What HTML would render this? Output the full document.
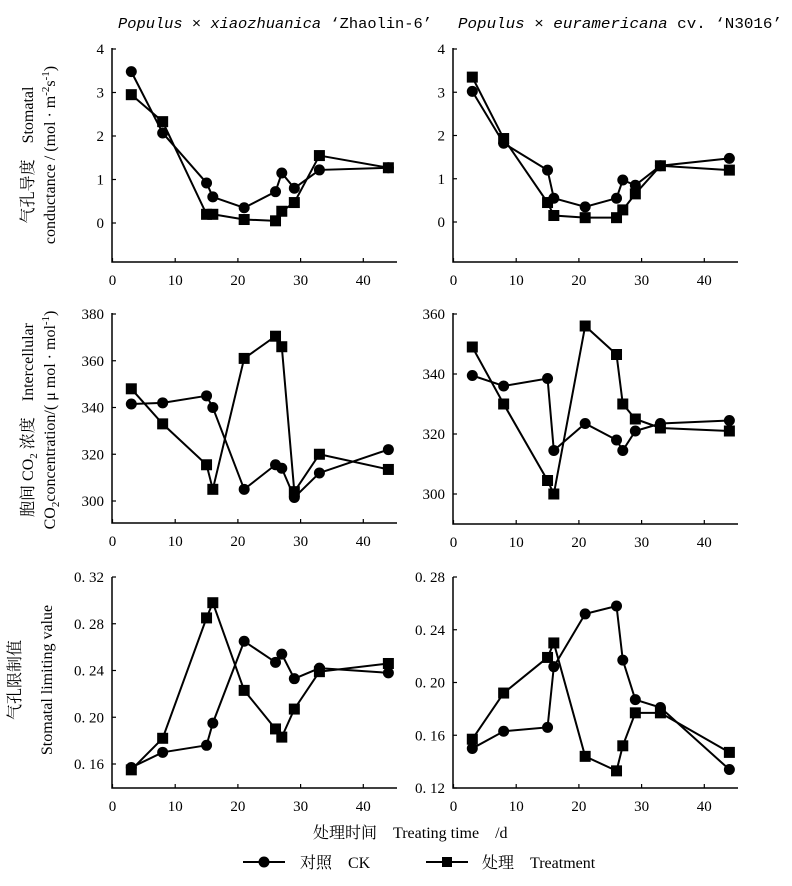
<!DOCTYPE html>
<html><head><meta charset="utf-8">
<style>
html,body{margin:0;padding:0;background:#fff;}
svg{display:block;font-family:"Liberation Serif","Noto Serif CJK SC",serif;}
</style></head>
<body>
<svg id="chart" width="792" height="886" viewBox="0 0 792 886" xmlns="http://www.w3.org/2000/svg">
<text x="118" y="28" font-size="15" textLength="314" lengthAdjust="spacingAndGlyphs" font-family="Liberation Mono, Noto Sans CJK SC, monospace"><tspan font-style="italic">Populus × xiaozhuanica</tspan> ‘Zhaolin-6’</text>
<text x="458" y="28" font-size="15" textLength="324" lengthAdjust="spacingAndGlyphs" font-family="Liberation Mono, Noto Sans CJK SC, monospace"><tspan font-style="italic">Populus × euramericana</tspan> cv. ‘N3016’</text>
<text transform="translate(33,155) rotate(-90)" font-size="16" text-anchor="middle">气孔导度　Stomatal</text>
<text transform="translate(55,155) rotate(-90)" font-size="16" text-anchor="middle">conductance / (mol · m<tspan font-size="11" dy="-6">-2</tspan><tspan dy="6">s</tspan><tspan font-size="11" dy="-6">-1</tspan><tspan dy="6">)</tspan></text>
<text transform="translate(33,420) rotate(-90)" font-size="16" text-anchor="middle">胞间 CO<tspan font-size="11" dy="4">2</tspan><tspan dy="-4"> 浓度　Intercellular</tspan></text>
<text transform="translate(55,420) rotate(-90)" font-size="16" text-anchor="middle">CO<tspan font-size="11" dy="4">2</tspan><tspan dy="-4">concentration/( μ mol · mol</tspan><tspan font-size="11" dy="-6">-1</tspan><tspan dy="6">)</tspan></text>
<text transform="translate(20,680) rotate(-90)" font-size="16" text-anchor="middle">气孔限制值</text>
<text transform="translate(52,680) rotate(-90)" font-size="16" text-anchor="middle">Stomatal limiting value</text>
<text x="313" y="838" font-size="16">处理时间　Treating time　/d</text>
<g>
<line x1="243" y1="862" x2="285" y2="862" stroke="#000" stroke-width="2"/>
<circle cx="264" cy="862" r="5.5" fill="#000"/>
<text x="300" y="868" font-size="16">对照　CK</text>
<line x1="426" y1="862" x2="468" y2="862" stroke="#000" stroke-width="2"/>
<rect x="442" y="857" width="10" height="10" fill="#000"/>
<text x="482" y="868" font-size="16">处理　Treatment</text>
</g>
</svg>
<script>
const days = [3, 8, 15, 16, 21, 26, 27, 29, 33, 44];
const gsLeftCK = [3.48, 2.07, 0.92, 0.6, 0.35, 0.72, 1.15, 0.8, 1.22, 1.27];
const gsLeftT = [2.95, 2.33, 0.2, 0.2, 0.08, 0.05, 0.27, 0.47, 1.55, 1.27];
const gsRightCK = [3.02, 1.82, 1.2, 0.55, 0.35, 0.55, 0.97, 0.85, 1.3, 1.47];
const gsRightT = [3.35, 1.93, 0.45, 0.15, 0.1, 0.1, 0.28, 0.65, 1.3, 1.2];
const ciLeftCK = [341.5, 342, 345, 340, 305, 315.5, 314, 301.5, 312, 322];
const ciLeftT = [348, 333, 315.5, 305, 361, 370.5, 366, 304, 320, 313.5];
const ciRightCK = [339.5, 336, 338.5, 314.5, 323.5, 318, 314.5, 321, 323.5, 324.5];
const ciRightT = [349, 330, 304.5, 300, 356, 346.5, 330, 325, 322, 321];
const lsLeftCK = [0.157, 0.170, 0.176, 0.195, 0.265, 0.247, 0.254, 0.233, 0.242, 0.238];
const lsLeftT = [0.155, 0.182, 0.285, 0.298, 0.223, 0.19, 0.183, 0.207, 0.239, 0.246];
const lsRightCK = [0.150, 0.163, 0.166, 0.212, 0.252, 0.258, 0.217, 0.187, 0.181, 0.134];
const lsRightT = [0.157, 0.192, 0.219, 0.23, 0.144, 0.133, 0.152, 0.177, 0.177, 0.147];
const xTicks = [0, 10, 20, 30, 40];
const gsTicks = [0, 1, 2, 3, 4];
const ciLeftTicks = [300, 320, 340, 360, 380];
const ciRightTicks = [300, 320, 340, 360];
const lsLeftTicks = [0.16, 0.20, 0.24, 0.28, 0.32];
const lsRightTicks = [0.12, 0.16, 0.20, 0.24, 0.28];

const NS = 'http://www.w3.org/2000/svg';
const svg = document.getElementById('chart');
function mk(tag, attrs, parent) {
  const e = document.createElementNS(NS, tag);
  for (const k in attrs) e.setAttribute(k, attrs[k]);
  parent.appendChild(e);
  return e;
}
function panel(name, ax, top, bottom, yv0, yp0, yv1, yp1, yTicks, fmt, ck, tr) {
  const g = mk('g', {}, svg);
  
  
  const x0 = ax + 0.5, xs = 6.27;
  const X = d => x0 + d * xs;
  const Y = v => yp0 + (v - yv0) * (yp1 - yp0) / (yv1 - yv0);
  const axes = mk('path', {d: `M${ax},${top}V${bottom}H${ax + 285}`, stroke: '#000', 'stroke-width': 1.5, fill: 'none'}, g);
  
  
  xTicks.forEach(t => {
    mk('line', {x1: X(t), x2: X(t), y1: bottom, y2: bottom - 4, stroke: '#000', 'stroke-width': 1.2}, g);
    const tx = mk('text', {x: X(t), y: bottom + 23, 'font-size': 15, 'text-anchor': 'middle'}, g);
    
    
    tx.textContent = t;
  });
  yTicks.forEach(t => {
    mk('line', {x1: ax, x2: ax + 4, y1: Y(t), y2: Y(t), stroke: '#000', 'stroke-width': 1.2}, g);
    const ty = mk('text', {x: ax - 8, y: Y(t) + 5, 'font-size': 15, 'text-anchor': 'end'}, g);
    
    
    ty.textContent = fmt(t);
  });
  [[ck, 'ck'], [tr, 'treatment']].forEach(([vals, s]) => {
    const pts = days.map((d, i) => X(d) + ',' + Y(vals[i])).join(' ');
    const pl = mk('polyline', {points: pts, fill: 'none', stroke: '#000', 'stroke-width': 2}, g);
    
    
    days.forEach((d, i) => {
      let m;
      if (s === 'ck') m = mk('circle', {cx: X(d), cy: Y(vals[i]), r: 5.5, fill: '#000'}, g);
      else m = mk('rect', {x: X(d) - 5.5, y: Y(vals[i]) - 5.5, width: 11, height: 11, fill: '#000'}, g);
      
      
    });
  });
}
const f0 = t => String(t);
const f2 = t => '0. ' + t.toFixed(2).slice(2);
panel('gs-left-panel', 112, 48, 262, 0, 223, 4, 49, gsTicks, f0, gsLeftCK, gsLeftT);
panel('gs-right-panel', 453, 48, 262, 0, 222, 4, 49, gsTicks, f0, gsRightCK, gsRightT);
panel('ci-left-panel', 112, 313, 523, 300, 501, 380, 314, ciLeftTicks, f0, ciLeftCK, ciLeftT);
panel('ci-right-panel', 453, 313, 524, 300, 494, 360, 314, ciRightTicks, f0, ciRightCK, ciRightT);
panel('ls-left-panel', 112, 577, 788, 0.16, 764, 0.32, 577, lsLeftTicks, f2, lsLeftCK, lsLeftT);
panel('ls-right-panel', 453, 577, 788, 0.12, 788, 0.28, 577, lsRightTicks, f2, lsRightCK, lsRightT);
</script>
</body></html>
